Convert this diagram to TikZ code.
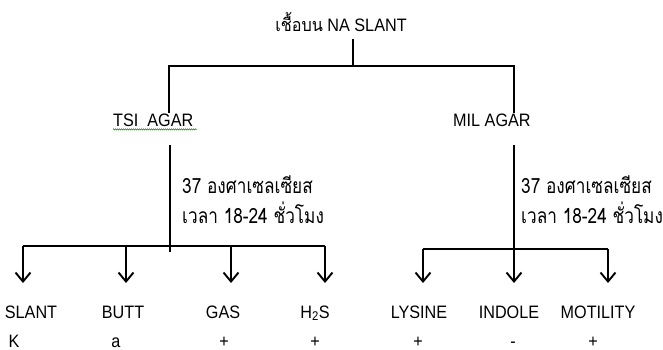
\documentclass[tikz,border=0pt]{standalone}
\usepackage{fontspec}
\setmainfont{Liberation Sans}[FakeStretch=0.9]
\newfontfamily\thaifont[Script=Thai,FakeStretch=0.82]{Loma}
\newfontfamily\thaitop[Script=Thai,FakeStretch=0.9]{Loma}
\usetikzlibrary{arrows.meta,decorations.pathmorphing}
\begin{document}
\begin{tikzpicture}[x=1pt,y=-1pt,
  lbl/.style={inner sep=0pt,font=\fontsize{18}{20}\selectfont},
  thl/.style={inner sep=0pt,font=\thaifont\fontsize{21}{30}\selectfont,align=left},
  ln/.style={line width=1.9pt},
  arr/.style={line width=1.9pt,-{Straight Barb[length=9pt,width=15pt,line width=1.9pt]}}]
\useasboundingbox (0,0) rectangle (663,350);
% texts
\node[lbl,anchor=base] (top) at (341,32) {{\thaitop เชื้อบน} NA SLANT};
\node[lbl,anchor=base west] (tsi) at (113,126) {TSI\ \ AGAR};
\node[lbl,anchor=base west] (mil) at (453,126) {MIL AGAR};
\node[thl,anchor=base west] (t1a) at (182,193) {37 องศาเซลเซียส};
\node[thl,anchor=base west] (t1b) at (182,223) {เวลา 18-24 ชั่วโมง};
\node[thl,anchor=base west] (t2a) at (521,193) {37 องศาเซลเซียส};
\node[thl,anchor=base west] (t2b) at (521,223) {เวลา 18-24 ชั่วโมง};
\node[lbl,anchor=base] (slant) at (31,318) {SLANT};
\node[lbl,anchor=base] (butt) at (123,318) {BUTT};
\node[lbl,anchor=base] (gas) at (223,318) {GAS};
\node[lbl,anchor=base] (hs) at (315,318) {H\textsubscript{2}S};
\node[lbl,anchor=base] (lys) at (419,318) {LYSINE};
\node[lbl,anchor=base] (ind) at (509,318) {INDOLE};
\node[lbl,anchor=base] (mot) at (598,318) {MOTILITY};
\node[lbl,anchor=base] (vk) at (14,347) {K};
\node[lbl,anchor=base] (va) at (116,347) {a};
\node[lbl,anchor=base] (vg) at (224,347) {+};
\node[lbl,anchor=base] (vh) at (315,347) {+};
\node[lbl,anchor=base] (vl) at (418,347) {+};
\node[lbl,anchor=base] (vi) at (513,347) {-};
\node[lbl,anchor=base] (vm) at (593,347) {+};
% junction coordinates
\coordinate (c0) at (353,39);
\coordinate (j0) at (353,66);
\coordinate (jl) at (169,66);
\coordinate (jr) at (514,66);
\coordinate (el) at (169,113);
\coordinate (er) at (514,113);
\coordinate (sl) at (170,145);
\coordinate (sr) at (514,145);
\coordinate (bl) at (170,252);
\coordinate (br) at (514,249);
\coordinate (hl1) at (23,246);
\coordinate (hl2) at (126,246);
\coordinate (hl3) at (231,246);
\coordinate (hl4) at (325,246);
\coordinate (hr1) at (423,249);
\coordinate (hr2) at (514,249);
\coordinate (hr3) at (608,249);
\coordinate (al1) at (23,283);
\coordinate (al2) at (126,283);
\coordinate (al3) at (231,283);
\coordinate (al4) at (325,283);
\coordinate (ar1) at (423,283);
\coordinate (ar2) at (514,283);
\coordinate (ar3) at (608,283);
% connectors
\draw[ln] (c0) -- (j0);
\draw[ln] (el) -- (jl) -- (jr) -- (er);
\draw[ln] (sl) -- (bl);
\draw[ln,line width=1.5pt] (sr) -- (br);
\draw[ln] (hl1) -- (hl4);
\draw[ln] (hr1) -- (hr3);
\draw[arr] (hl1) -- (al1);
\draw[arr] (hl2) -- (al2);
\draw[arr] (hl3) -- (al3);
\draw[arr] (hl4) -- (al4);
\draw[arr] (hr1) -- (ar1);
\draw[arr] (hr2) -- (ar2);
\draw[arr] (hr3) -- (ar3);
% spell-check underline
\draw[green!60!black,line width=0.6pt,decorate,decoration={snake,amplitude=0.6pt,segment length=2pt}]
  (tsi.south west) ++(0,3) -- ++(84,0);
\end{tikzpicture}
\end{document}
